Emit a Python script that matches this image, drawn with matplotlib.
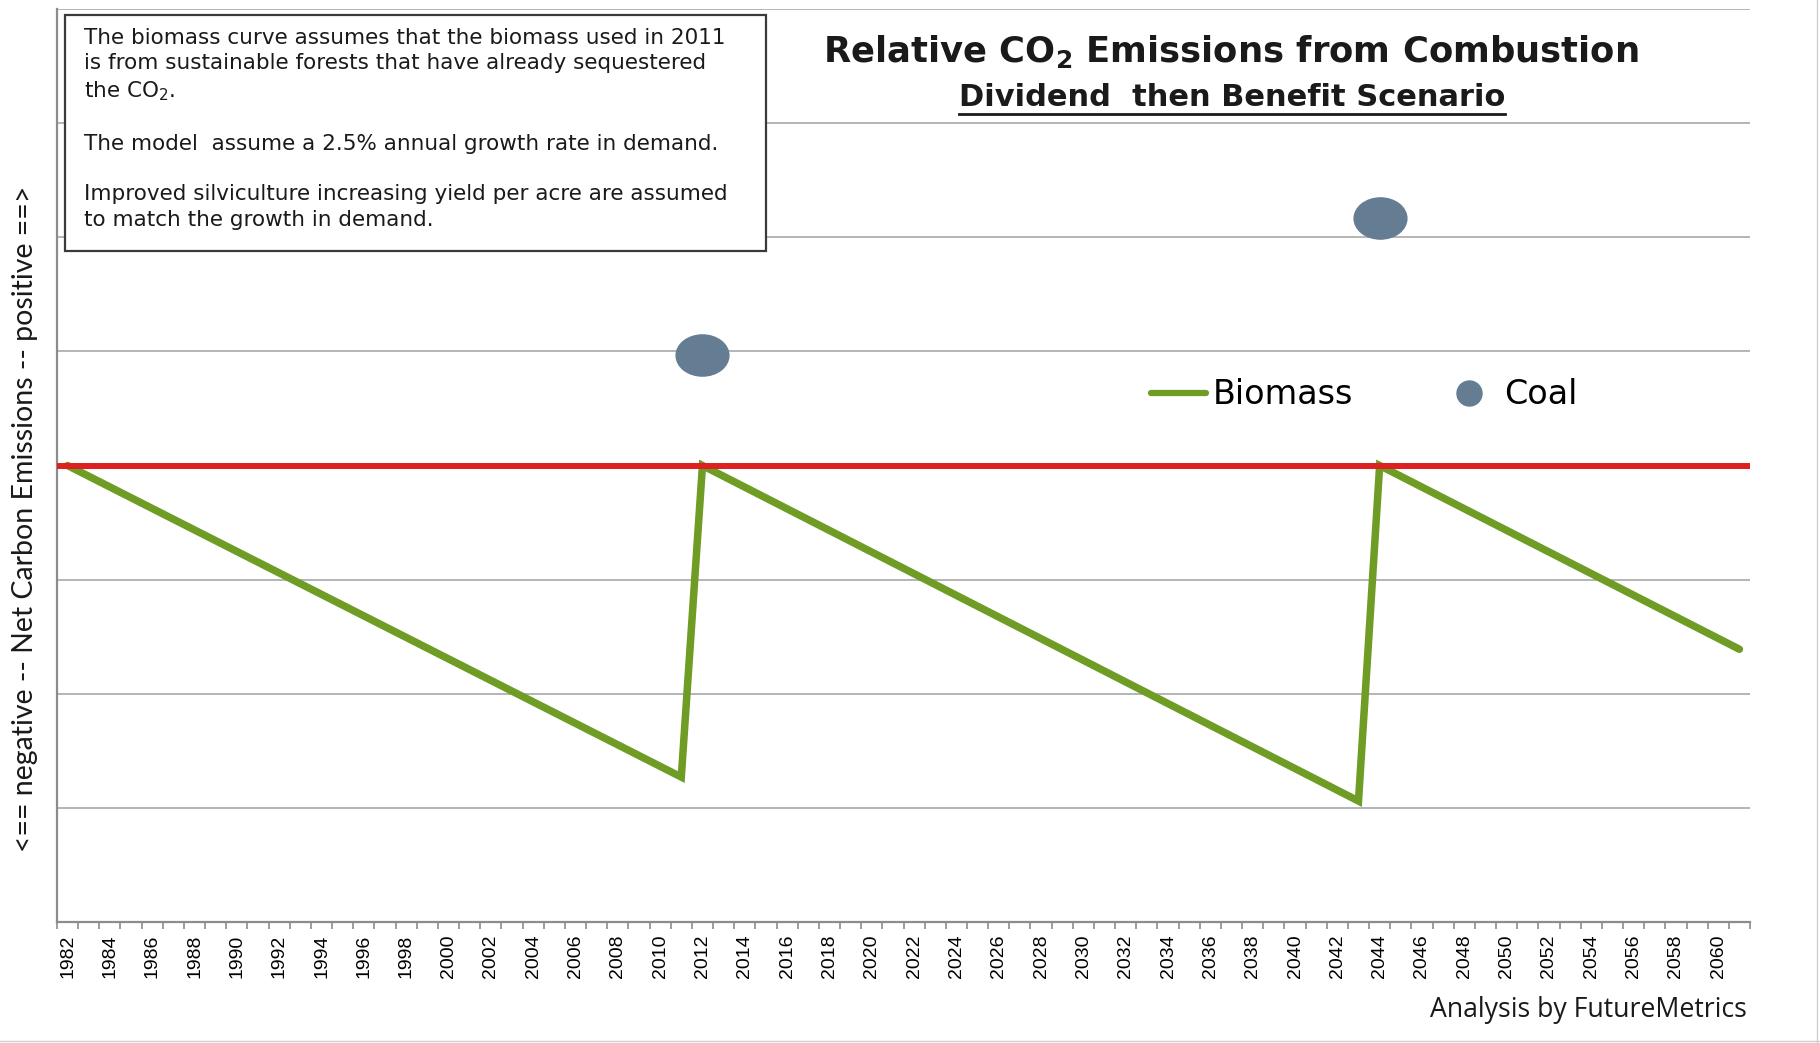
import numpy as np
import matplotlib
matplotlib.use("Agg")
import matplotlib.pyplot as plt
from matplotlib.path import Path
from matplotlib.transforms import Affine2D
from matplotlib.lines import Line2D
from matplotlib.patches import Rectangle

plt.rcParams['mathtext.default'] = 'regular'

# data
bio_years = [1982, 2011, 2012, 2043, 2044, 2061]
bio_vals = [0.0, -2.73, 0.0, -2.94, 0.0, -1.61]
coal_years = [2012, 2044]
coal_vals = [0.97, 2.17]
baseline = 0.0
first_year, last_year = 1982, 2061
label_years = list(range(1982, 2061, 2))

green = '#6e9c24'
red = '#dd2020'
slate = '#647d93'
grid_c = '#a8a8a8'
ink = '#1a1a1a'

W, H = 1820, 1043
fig = plt.figure(figsize=(W / 100, H / 100), dpi=100)
ax = fig.add_axes([57 / W, 1 - 922 / H, (1750 - 57) / W, (922 - 9) / H])

ax.set_xlim(first_year - 0.5, last_year + 0.5)
ax.set_ylim(-4, 4)
ax.set_yticks(range(-4, 5))
ax.yaxis.grid(True, color=grid_c, linewidth=1.2)
ax.tick_params(axis='y', length=0, labelleft=False)

ax.set_xticks(label_years)
ax.set_xticklabels([str(y) for y in label_years], rotation=90,
                   fontsize=14, family='Liberation Sans')
ax.set_xticks(np.arange(first_year - 0.5, last_year + 1, 1), minor=True)
ax.tick_params(axis='x', which='major', length=0, pad=9)
ax.tick_params(axis='x', which='minor', length=5, width=1.2, color='#8c8c8c', direction='out')

for s in ['top', 'right']:
    ax.spines[s].set_visible(False)
for s in ['left', 'bottom']:
    ax.spines[s].set_color('#8c8c8c')
    ax.spines[s].set_linewidth(1.6)
ax.set_axisbelow(True)

ax.axhline(baseline, color=red, linewidth=4.3, zorder=4)
ax.plot(bio_years, bio_vals, color=green, linewidth=5.4, solid_joinstyle='miter',
        solid_capstyle='round', zorder=3)

ellipse = Path.unit_circle().transformed(Affine2D().scale(1, 0.78))
ax.plot(coal_years, coal_vals, linestyle='none', marker=ellipse, markersize=38,
        markerfacecolor=slate, markeredgecolor=slate, zorder=5)

handles = [Line2D([], [], color=green, linewidth=4.5, solid_capstyle='round'),
           Line2D([], [], linestyle='none', marker='o', markersize=18,
                  markerfacecolor=slate, markeredgecolor=slate)]
ax.legend(handles, ['Biomass', 'Coal'], ncol=2, frameon=False, loc='center left',
          bbox_to_anchor=(1151 / W, 1 - 395 / H), bbox_transform=fig.transFigure,
          borderaxespad=0, borderpad=0, handlelength=1.66, handletextpad=0.2,
          columnspacing=2.65, prop={'family': 'DejaVu Sans', 'size': 24})

# note box
fig.add_artist(Rectangle((65 / W, 1 - 251 / H), 701 / W, 236 / H, transform=fig.transFigure,
                         facecolor='white', edgecolor='#3a3a3a', linewidth=1.6, zorder=5))
note = ("The biomass curve assumes that the biomass used in 2011\n"
        "is from sustainable forests that have already sequestered\n"
        "the CO$_2$.\n"
        "\n"
        "The model  assume a 2.5% annual growth rate in demand.\n"
        "\n"
        "Improved silviculture increasing yield per acre are assumed\n"
        "to match the growth in demand.")
fig.text(84 / W, 1 - 28 / H, note, ha='left', va='top', fontsize=15.5,
         family='DejaVu Sans', linespacing=1.335, color=ink, zorder=6)

fig.text(1231 / W, 1 - 52 / H, 'Relative CO$_2$ Emissions from Combustion', ha='center',
         va='center', fontsize=25.5, fontweight='bold', family='DejaVu Sans', color=ink)
sub = fig.text(1232 / W, 1 - 97 / H, 'Dividend  then Benefit Scenario', ha='center',
               va='center', fontsize=22, fontweight='bold', family='DejaVu Sans', color=ink)

fig.text(25 / W, 1 - 519 / H, '<== negative -- Net Carbon Emissions -- positive ==>',
         rotation=90, ha='center', va='center', fontsize=20.5, family='Lato', color=ink)
fig.text(1747 / W, 1 - 1010 / H, 'Analysis by FutureMetrics', ha='right', va='center',
         fontsize=19.2, family='Open Sans', color=ink)

# underline for the subtitle
fig.canvas.draw()
bb = sub.get_window_extent()
fig.add_artist(Line2D([bb.x0 / W, bb.x1 / W], [(bb.y0 - 2) / H, (bb.y0 - 2) / H],
                      transform=fig.transFigure, color=ink, linewidth=2))

# faint page edges from the scan
fig.add_artist(Line2D([1817 / W, 1817 / W], [0, 1], transform=fig.transFigure,
                      color='#d0d0d0', linewidth=1))
fig.add_artist(Line2D([0, 1], [2 / H, 2 / H], transform=fig.transFigure,
                      color='#d0d0d0', linewidth=1))

fig.savefig('out.png', dpi=100)
